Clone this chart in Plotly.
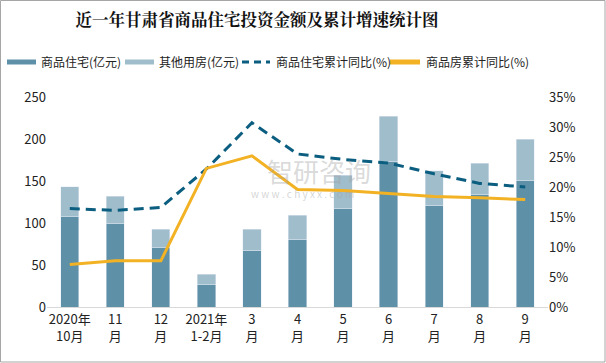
import plotly.graph_objects as go

categories = ["2020年<br>10月", "11<br>月", "12<br>月", "2021年<br>1-2月", "3<br>月", "4<br>月",
              "5<br>月", "6<br>月", "7<br>月", "8<br>月", "9<br>月"]
residential = [108, 100, 71, 27, 67.5, 80.6, 117.5, 173.5, 121, 134, 151]
other = [35, 32, 21.5, 12, 25, 28.4, 39.3, 53.5, 41, 37, 48.6]
res_growth = [16.4, 16.1, 16.6, 23.0, 30.7, 25.5, 24.6, 24.0, 22.2, 20.6, 20.0]
house_growth = [7.1, 7.7, 7.7, 23.1, 25.2, 19.6, 19.4, 18.9, 18.4, 18.2, 17.9]

names = ["商品住宅(亿元)", "其他用房(亿元)", "商品住宅累计同比(%)", "商品房累计同比(%)"]
c_dark = "#5E90A7"
c_light = "#A0BDCB"
c_dash = "#0B5E80"
c_orange = "#F2B224"

font_family = "Microsoft YaHei, Noto Sans CJK SC, sans-serif"
dash_style = "10px,6px"

fig = go.Figure()
fig.add_trace(go.Bar(x=categories, y=residential, marker_color=c_dark, width=0.4,
                     showlegend=False, name=names[0]))
fig.add_trace(go.Bar(x=categories, y=other, marker_color=c_light, width=0.4,
                     showlegend=False, name=names[1]))
fig.add_trace(go.Scatter(x=categories, y=res_growth, mode="lines", name=names[2], yaxis="y2",
                         showlegend=False, line=dict(color=c_dash, width=3, dash=dash_style)))
fig.add_trace(go.Scatter(x=categories, y=house_growth, mode="lines", name=names[3], yaxis="y2",
                         showlegend=False, line=dict(color=c_orange, width=3)))

W, H = 606, 363
l, r, t, b = 47, 58, 97, 56
pw, ph = W - l - r, H - t - b


def px(x):
    return (x - l) / pw


def py(y):
    return (H - b - y) / ph


# manual legend: swatch x-range, text x-start
leg_y = 62
legend_items = [
    (names[0], c_dark, "solid", 7, 36, 39),
    (names[1], c_light, "solid", 125, 154, 157),
    (names[2], c_dash, "7px,5px", 242, 270, 274),
    (names[3], c_orange, "solid", 390, 420, 424),
]

shapes = [dict(type="rect", xref="paper", yref="paper",
               x0=px(0.5), x1=px(W - 1), y0=py(H - 1), y1=py(0.5),
               line=dict(color="#A6A6A6", width=1), fillcolor="rgba(0,0,0,0)", layer="below")]
annotations = []
for name, color, dash, x0, x1, tx in legend_items:
    w = 3 if dash != "solid" else 5
    shapes.append(dict(type="line", xref="paper", yref="paper", x0=px(x0), x1=px(x1),
                       y0=py(leg_y), y1=py(leg_y), line=dict(color=color, width=w, dash=dash)))
    annotations.append(dict(text=name, xref="paper", yref="paper", x=px(tx), y=py(leg_y),
                            xanchor="left", yanchor="middle", showarrow=False,
                            font=dict(size=12, color="#222222")))

annotations += [
    dict(text="智研咨询", xref="paper", yref="paper", x=px(319), y=py(170),
         showarrow=False, font=dict(size=26, color="rgba(160,160,160,0.4)")),
    dict(text="w w w . c h y x x . c o m", xref="paper", yref="paper", x=px(302),
         y=py(193), showarrow=False, font=dict(size=10, color="rgba(160,160,160,0.45)")),
]

fig.update_layout(
    width=W, height=H, barmode="stack", showlegend=False, hovermode=False,
    margin=dict(l=l, r=r, t=t, b=b),
    plot_bgcolor="white", paper_bgcolor="white",
    font=dict(family=font_family, size=13, color="#222222"),
    title=dict(text="<b>近一年甘肃省商品住宅投资金额及累计增速统计图</b>",
               x=px(257), xref="paper", xanchor="center", y=1 - 20 / H, yanchor="middle",
               font=dict(size=16.5, color="#111111", family="Noto Serif CJK SC, Noto Sans CJK SC, serif")),
    xaxis=dict(showgrid=False, showline=True, linecolor="#D9D9D9", linewidth=1, ticks="",
               tickfont=dict(size=13), zeroline=False),
    yaxis=dict(range=[0, 250], dtick=50, showgrid=False, zeroline=False, showline=False,
               tickfont=dict(size=13)),
    yaxis2=dict(range=[0, 35], dtick=5, overlaying="y", side="right", ticksuffix="%",
                showgrid=False, zeroline=False, showline=False, tickfont=dict(size=13)),
    shapes=shapes,
    annotations=annotations,
)

fig.write_html("out.html", config={"displayModeBar": False, "staticPlot": True},
               post_script="document.body.style.margin='0';document.body.style.overflow='hidden';")
